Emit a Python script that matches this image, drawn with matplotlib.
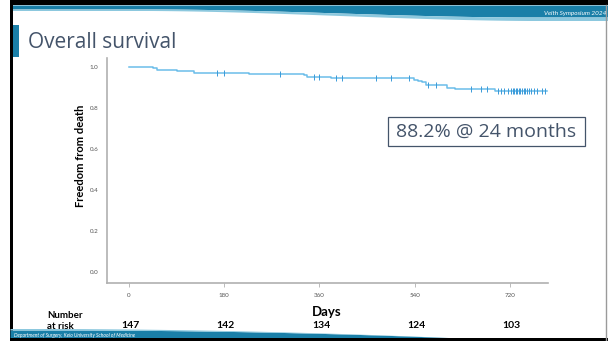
import numpy as np
import matplotlib.pyplot as plt
from matplotlib.patches import Rectangle

# Kaplan-Meier estimate: days of each drop and survival after it
step_days = [0, 45, 53, 91, 123, 227, 330, 337, 382, 538, 547, 553, 561, 602, 617, 691]
step_surv = [1.0, 0.993, 0.986, 0.979, 0.972, 0.966, 0.959, 0.952, 0.946,
             0.939, 0.932, 0.925, 0.911, 0.898, 0.891, 0.882]
last_day = 790

# censored patients (days)
censor_days = [167, 180, 286, 350, 360, 392, 403, 466, 496, 530, 566, 581,
               646, 666, 676, 697, 703, 709, 716, 722, 725, 728, 731, 734,
               737, 740, 743, 746, 749, 752, 756, 760, 766, 772, 780, 786]

risk_days = [0, 180, 360, 540, 720]
at_risk = [147, 142, 134, 124, 103]

x_ticks = [0, 180, 360, 540, 720]
y_ticks = [0.0, 0.2, 0.4, 0.6, 0.8, 1.0]

font = ['Lato', 'DejaVu Sans']
slide_font = ['Open Sans', 'DejaVu Sans']
title_col = '#44546a'
teal = '#1a7fa8'

fig = plt.figure(figsize=(6.08, 3.41), dpi=100)

# slide background in pixel coordinates
bg = fig.add_axes([0, 0, 1, 1])
bg.set_xlim(0, 608)
bg.set_ylim(341, 0)
bg.axis('off')

xs = np.linspace(10, 608, 200)
t = np.clip((xs - 150) / 380, 0, 1)
low = 9 + 8 * t * t * (3 - 2 * t)
# top banner
bg.fill_between(xs, 5, low, color=teal, lw=0)
bg.fill_between(xs, low, low + 1.5 + 2 * t, color='#8cc8de', lw=0)
bg.add_patch(Rectangle((10, 0), 598, 5, color='black', lw=0))
bg.add_patch(Rectangle((10, 0), 3, 341, color='black', lw=0))
bg.plot([605.5, 605.5], [5, 341], color='#9a9a9a', lw=1)
bg.text(606, 13, 'Veith Symposium 2024', color='white', fontsize=4.6,
        style='italic', ha='right', va='center', family=font)

# bottom banner
tb = np.clip((xs - 60) / 400, 0, 1)
top_b = 330 + 8 * tb * tb
bg.fill_between(xs, top_b, 338, color=teal, lw=0)
bg.fill_between(xs, top_b - 1.5 * (1 - tb), top_b, color='#8cc8de', lw=0)
bg.add_patch(Rectangle((10, 338), 598, 3, color='black', lw=0))
bg.text(14, 335, 'Department of Surgery, Keio University School of Medicine',
        color='white', fontsize=3.6, style='italic', ha='left', va='center',
        family=font)

# title with accent bar
bg.add_patch(Rectangle((13, 25), 6, 32, color=teal, lw=0))
bg.text(28, 42, 'Overall survival', color=title_col, fontsize=15,
        ha='left', va='center', family=slide_font)

# plot area
ax = fig.add_axes([107 / 608, 1 - 283 / 341, 441 / 608, 225 / 341])
ax.patch.set_alpha(0)
xs_km = step_days + [last_day]
ys_km = step_surv + [step_surv[-1]]
ax.step(xs_km, ys_km, where='post', color='#6bbde9', lw=1.1)

idx = np.searchsorted(step_days, censor_days, side='right') - 1
censor_surv = np.array(step_surv)[idx]
ax.plot(censor_days, censor_surv, ls='none', marker='|', ms=4.5,
        mew=0.7, color='#3a9ad9')

ax.set_xlim(-41.6, 792)
ax.set_ylim(-0.0537, 1.0439)
ax.set_xticks(x_ticks)
ax.set_xticklabels([str(v) for v in x_ticks])
ax.set_yticks(y_ticks)
ax.set_yticklabels(['%.1f' % v for v in y_ticks])
ax.tick_params(axis='x', length=3, width=0.6, color='#b0b0b0', labelsize=4.5,
               labelcolor='#555555', pad=4)
ax.tick_params(axis='y', length=0, labelsize=4.5, labelcolor='#555555', pad=6)
for lab in ax.get_xticklabels() + ax.get_yticklabels():
    lab.set_family(font)
for s in ['top', 'right']:
    ax.spines[s].set_visible(False)
for s in ['left', 'bottom']:
    ax.spines[s].set_color('#b0b0b0')
    ax.spines[s].set_linewidth(1.2)

# axis titles and risk table
bg.text(80, 156, 'Freedom from death', rotation=90, fontsize=8,
        fontweight='bold', ha='center', va='center', family=font)
bg.text(327, 312, 'Days', fontsize=9.5, fontweight='bold', ha='center',
        va='center', family=font)
bg.text(47, 321, 'Number\nat risk', fontsize=7, fontweight='bold', ha='left',
        va='center', linespacing=1.3, family=font)
for d, n in zip(risk_days, at_risk):
    ax.annotate(str(n), xy=(d, 0), xycoords=('data', 'axes fraction'),
                xytext=(1.5, -42), textcoords='offset pixels', ha='center',
                va='center', fontsize=7.5, fontweight='bold', family=font)

# survival at 24 months
bg.add_patch(Rectangle((388, 117), 197, 29, fc='white', ec='#44546a', lw=0.9))
bg.text(486.5, 131.5, '88.2% @ 24 months', fontsize=14, color=title_col,
        ha='center', va='center', family=slide_font)

fig.savefig('out.png', dpi=100)
